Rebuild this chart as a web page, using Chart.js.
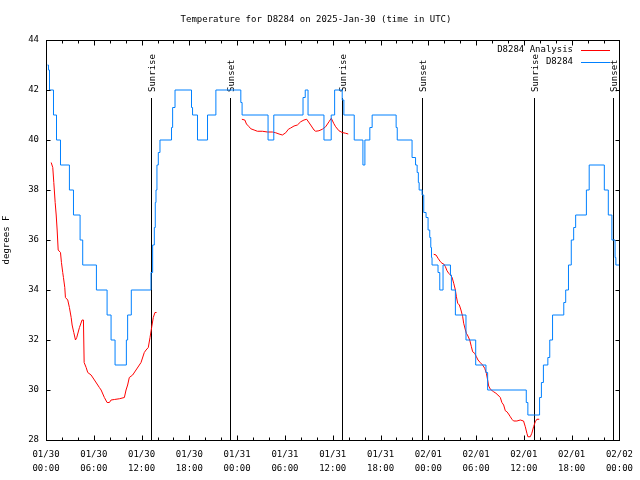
<!DOCTYPE html>
<html>
<head>
<meta charset="utf-8">
<title>Temperature for D8284</title>
<script src="https://cdn.jsdelivr.net/npm/chart.js@4.4.1/dist/chart.umd.min.js"></script>
<style>
    html, body { margin: 0; padding: 0; background: #fff; }
    #wrap { width: 640px; height: 480px; }
</style>
</head>
<body>
<div id="wrap"><canvas id="chart" width="640" height="480"></canvas></div>
<script>
// hours since 2025-01-30 00:00 UTC
// station obs: each point is the time the reading changed to the new value
var stationHours = [0.19, 0.31, 0.44, 0.94, 1.32, 1.82, 2.94, 3.45, 4.28, 4.61, 6.33, 7.67, 8.17, 8.67,
    10.09, 10.25, 10.71, 13.14, 13.18, 13.39, 13.6, 13.72, 13.81, 13.93, 14.1, 14.31, 15.76, 15.9, 16.2,
    18.27, 18.4, 19.02, 20.28, 21.33, 24.46, 24.62, 27.88, 28.6, 32.27, 32.55, 32.9, 34.9, 35.81, 36.24,
    37.19, 37.4, 38.7, 39.79, 40.04, 40.66, 40.95, 43.96, 44.1, 45.96, 46.4, 46.6, 46.75, 46.85,
    47.22, 47.43, 47.72, 47.97, 48.18, 48.31, 48.4, 48.47, 49.22, 49.44, 49.85, 50.78, 50.9, 51.4,
    52.73, 53.95, 55.24, 55.45, 60.3, 60.5, 61.97, 62.2, 62.45, 63.01, 63.25, 63.6, 65.01, 65.25,
    65.6, 65.95, 66.25, 66.5, 67.85, 68.2, 70.1, 70.6, 71.05, 71.45, 71.55, 72.0];
var stationTemps = [43.0, 42.8, 42.0, 41.0, 40.0, 39.0, 38.0, 37.0, 36.0, 35.0, 34.0, 33.0, 32.0, 31.0,
    32.0, 33.0, 34.0, 34.0, 34.7, 35.8, 36.5, 37.5, 38.0, 39.0, 39.5, 40.0, 40.5, 41.3, 42.0,
    41.3, 41.0, 40.0, 41.0, 42.0, 41.5, 41.0, 40.0, 41.0, 41.7, 42.0, 41.0, 40.0, 41.0, 42.0,
    41.6, 41.0, 40.0, 39.0, 40.0, 40.5, 41.0, 40.5, 40.0, 39.3, 39.0, 38.7, 38.3, 38.0,
    37.8, 37.1, 36.9, 36.4, 36.1, 35.7, 35.3, 35.0, 34.7, 34.0, 35.0, 34.6, 34.0, 33.0,
    32.0, 31.0, 30.7, 30.0, 29.5, 29.0, 29.7, 30.3, 31.0, 31.3, 32.0, 33.0, 33.5, 34.0,
    35.0, 36.0, 36.5, 37.0, 38.0, 39.0, 38.0, 37.0, 36.0, 35.3, 35.0, 35.0];

// analysis series, null marks a gap
var analysisHours = [0.65, 0.85, 0.98, 1.15, 1.28, 1.4, 1.53, 1.82, 1.94, 2.1, 2.19, 2.36, 2.44, 2.73,
    2.94, 3.16, 3.28, 3.49, 3.7, 3.86, 4.2, 4.53, 4.7, 4.79, 5.04, 5.24, 5.66, 6.08, 6.7, 6.92, 7.33,
    7.67, 7.96, 8.17, 8.58, 9.21, 9.84, 10.05, 10.25, 10.46, 10.88, 11.3, 11.72, 11.93, 12.34, 12.56,
    12.84, 13.06, 13.26, 13.47, 13.68, 13.88,
    18.0,
    24.59, 24.96, 25.17, 25.5, 25.71, 26.13, 26.54, 27.17, 27.8, 28.42, 28.84, 29.26, 29.68, 30.1,
    30.43, 30.72, 31.14, 31.56, 31.98, 32.39, 32.73, 33.23, 33.65, 33.86, 34.27, 34.69, 35.11, 35.53,
    35.82, 36.15, 36.37, 36.78, 37.19, 37.62, 37.95,
    42.0,
    48.68, 48.97, 49.22, 49.52, 49.72, 49.94, 50.15, 50.35, 50.56, 50.78, 50.98, 51.19, 51.4, 51.53,
    51.69, 51.9, 52.1, 52.32, 52.44, 52.66, 52.78, 52.98, 53.2, 53.41, 53.57, 53.82, 54.04, 54.24,
    54.54, 54.82, 55.08, 55.29, 55.45, 55.58, 55.79, 56.2, 56.49, 56.74, 57.04, 57.24, 57.46, 57.67,
    57.87, 58.08, 58.3, 58.5, 58.71, 59.12, 59.55, 59.96, 60.18, 60.38, 60.5, 60.8, 61.0, 61.22,
    61.43, 61.63, 61.93];
var analysisTemps = [39.1, 38.9, 38.3, 37.5, 37.0, 36.4, 35.6, 35.5, 35.1, 34.7, 34.5, 34.1, 33.7, 33.6,
    33.3, 32.9, 32.6, 32.3, 32.0, 32.1, 32.5, 32.8, 32.8, 31.1, 30.9, 30.7, 30.6, 30.4, 30.1, 30.0, 29.7,
    29.5, 29.5, 29.6, 29.62, 29.65, 29.7, 30.0, 30.2, 30.5, 30.6, 30.8, 31.0, 31.1, 31.5, 31.6,
    31.7, 32.1, 32.5, 32.9, 33.1, 33.1,
    null,
    40.83, 40.8, 40.64, 40.53, 40.45, 40.4, 40.35, 40.35, 40.32, 40.32, 40.29, 40.24, 40.2, 40.29,
    40.43, 40.48, 40.56, 40.6, 40.73, 40.8, 40.83, 40.6, 40.4, 40.35, 40.37, 40.43, 40.53, 40.73,
    40.87, 40.65, 40.53, 40.37, 40.3, 40.27, 40.24,
    null,
    35.43, 35.4, 35.27, 35.13, 35.07, 35.04, 34.93, 34.77, 34.67, 34.6, 34.51, 34.27, 34.0, 33.73,
    33.47, 33.4, 33.2, 32.93, 32.67, 32.4, 32.27, 32.16, 32.0, 31.73, 31.53, 31.47, 31.33, 31.2,
    31.09, 31.0, 30.87, 30.67, 30.4, 30.16, 30.03, 29.93, 29.87, 29.8, 29.7, 29.5, 29.4, 29.17,
    29.13, 29.04, 28.93, 28.83, 28.76, 28.76, 28.8, 28.76, 28.53, 28.27, 28.13, 28.13, 28.27, 28.53,
    28.73, 28.83, 28.83];

var eventHours = [13.14, 23.15, 37.2, 47.2, 61.24, 71.13];
var eventNames = ["Sunrise", "Sunset", "Sunrise", "Sunset", "Sunrise", "Sunset"];

var xTickLabels = [["01/30", "00:00"], ["01/30", "06:00"], ["01/30", "12:00"], ["01/30", "18:00"],
    ["01/31", "00:00"], ["01/31", "06:00"], ["01/31", "12:00"], ["01/31", "18:00"],
    ["02/01", "00:00"], ["02/01", "06:00"], ["02/01", "12:00"], ["02/01", "18:00"],
    ["02/02", "00:00"]];

var titleText = "Temperature for D8284 on 2025-Jan-30 (time in UTC)";
var monoFont = "'DejaVu Sans Mono', 'Liberation Mono', monospace";

function toPoints(xs, ys) {
    return xs.map(function (x, i) { return { x: x, y: ys[i] }; });
}

// gnuplot-like frame, inward ticks, sun lines, key and title
var gnuplotDecor = {
    id: 'gnuplotDecor',
    beforeDatasetsDraw: function (chart) {
        var ctx = chart.ctx, area = chart.chartArea, xs = chart.scales.x;
        ctx.save();
        ctx.strokeStyle = '#000';
        ctx.fillStyle = '#000';
        ctx.lineWidth = 1;
        ctx.font = "9px " + monoFont;
        eventHours.forEach(function (h, i) {
            var px = Math.round(xs.getPixelForValue(h)) + 0.5;
            ctx.beginPath();
            ctx.moveTo(px, 98);
            ctx.lineTo(px, area.bottom);
            ctx.stroke();
            ctx.save();
            ctx.translate(px + 1, 92);
            ctx.rotate(-Math.PI / 2);
            ctx.textAlign = 'left';
            ctx.textBaseline = 'middle';
            ctx.fillText(eventNames[i], 0, 0);
            ctx.restore();
        });
        ctx.restore();
    },
    afterDraw: function (chart) {
        var ctx = chart.ctx, area = chart.chartArea;
        var xs = chart.scales.x, ys = chart.scales.y;
        ctx.save();
        ctx.strokeStyle = '#000';
        ctx.lineWidth = 1;
        var l = Math.round(area.left) + 0.5, r = Math.round(area.right) + 0.5;
        var t = Math.round(area.top) + 0.5, b = Math.round(area.bottom) + 0.5;
        ctx.strokeRect(l, t, r - l, b - t);
        ctx.beginPath();
        for (var v = 30; v < 44; v += 2) {
            var py = Math.round(ys.getPixelForValue(v)) + 0.5;
            ctx.moveTo(l, py); ctx.lineTo(l + 4, py);
            ctx.moveTo(r, py); ctx.lineTo(r - 4, py);
        }
        for (var h = 2; h < 72; h += 2) {
            var px = Math.round(xs.getPixelForValue(h)) + 0.5;
            var len = (h % 6 === 0) ? 5 : 3;
            ctx.moveTo(px, b); ctx.lineTo(px, b - len);
            ctx.moveTo(px, t); ctx.lineTo(px, t + len);
        }
        ctx.stroke();

        // title
        ctx.fillStyle = '#000';
        ctx.font = "9px " + monoFont;
        ctx.textAlign = 'center';
        ctx.textBaseline = 'middle';
        ctx.fillText(titleText, 316, 20);

        // key, top right, text right-justified then sample line
        var keyItems = [chart.data.datasets[1], chart.data.datasets[0]];
        keyItems.forEach(function (ds, i) {
            var ky = 50 + i * 12;
            ctx.fillStyle = '#000';
            ctx.textAlign = 'right';
            ctx.fillText(ds.label, 573, ky);
            ctx.strokeStyle = ds.borderColor;
            ctx.beginPath();
            ctx.moveTo(581, ky + 0.5);
            ctx.lineTo(610, ky + 0.5);
            ctx.stroke();
        });
        ctx.restore();
    }
};

var ctx = document.getElementById('chart');
var tempChart = new Chart(ctx, {
    type: 'line',
    data: {
        datasets: [{
            label: 'D8284',
            data: toPoints(stationHours, stationTemps),
            borderColor: '#0080ff',
            borderWidth: 1,
            pointRadius: 0,
            stepped: true,
            fill: false,
            order: 0
        }, {
            label: 'D8284 Analysis',
            data: toPoints(analysisHours, analysisTemps),
            borderColor: '#ff0000',
            borderWidth: 1,
            pointRadius: 0,
            tension: 0,
            spanGaps: false,
            fill: false,
            order: 1
        }]
    },
    options: {
        responsive: false,
        animation: false,
        layout: { padding: { top: 40, right: 19, bottom: 0, left: 0 } },
        plugins: {
            legend: { display: false },
            title: { display: false },
            tooltip: { enabled: false }
        },
        scales: {
            x: {
                type: 'linear',
                min: 0,
                max: 72,
                grid: { display: false, drawTicks: false },
                border: { display: false },
                ticks: {
                    stepSize: 6,
                    autoSkip: false,
                    maxRotation: 0,
                    padding: 7,
                    color: '#000',
                    font: { family: monoFont, size: 9, lineHeight: 1.6 },
                    callback: function (value) { return xTickLabels[value / 6]; }
                },
                afterFit: function (scale) { scale.height = 40; }
            },
            y: {
                min: 28,
                max: 44,
                grid: { display: false, drawTicks: false },
                border: { display: false },
                ticks: {
                    stepSize: 2,
                    padding: 7,
                    color: '#000',
                    font: { family: monoFont, size: 9 }
                },
                title: {
                    display: true,
                    text: 'degrees F',
                    color: '#000',
                    padding: { top: 1, bottom: 0 },
                    font: { family: monoFont, size: 9 }
                },
                afterFit: function (scale) { scale.width = 46; }
            }
        }
    },
    plugins: [gnuplotDecor]
});
</script>
</body>
</html>
